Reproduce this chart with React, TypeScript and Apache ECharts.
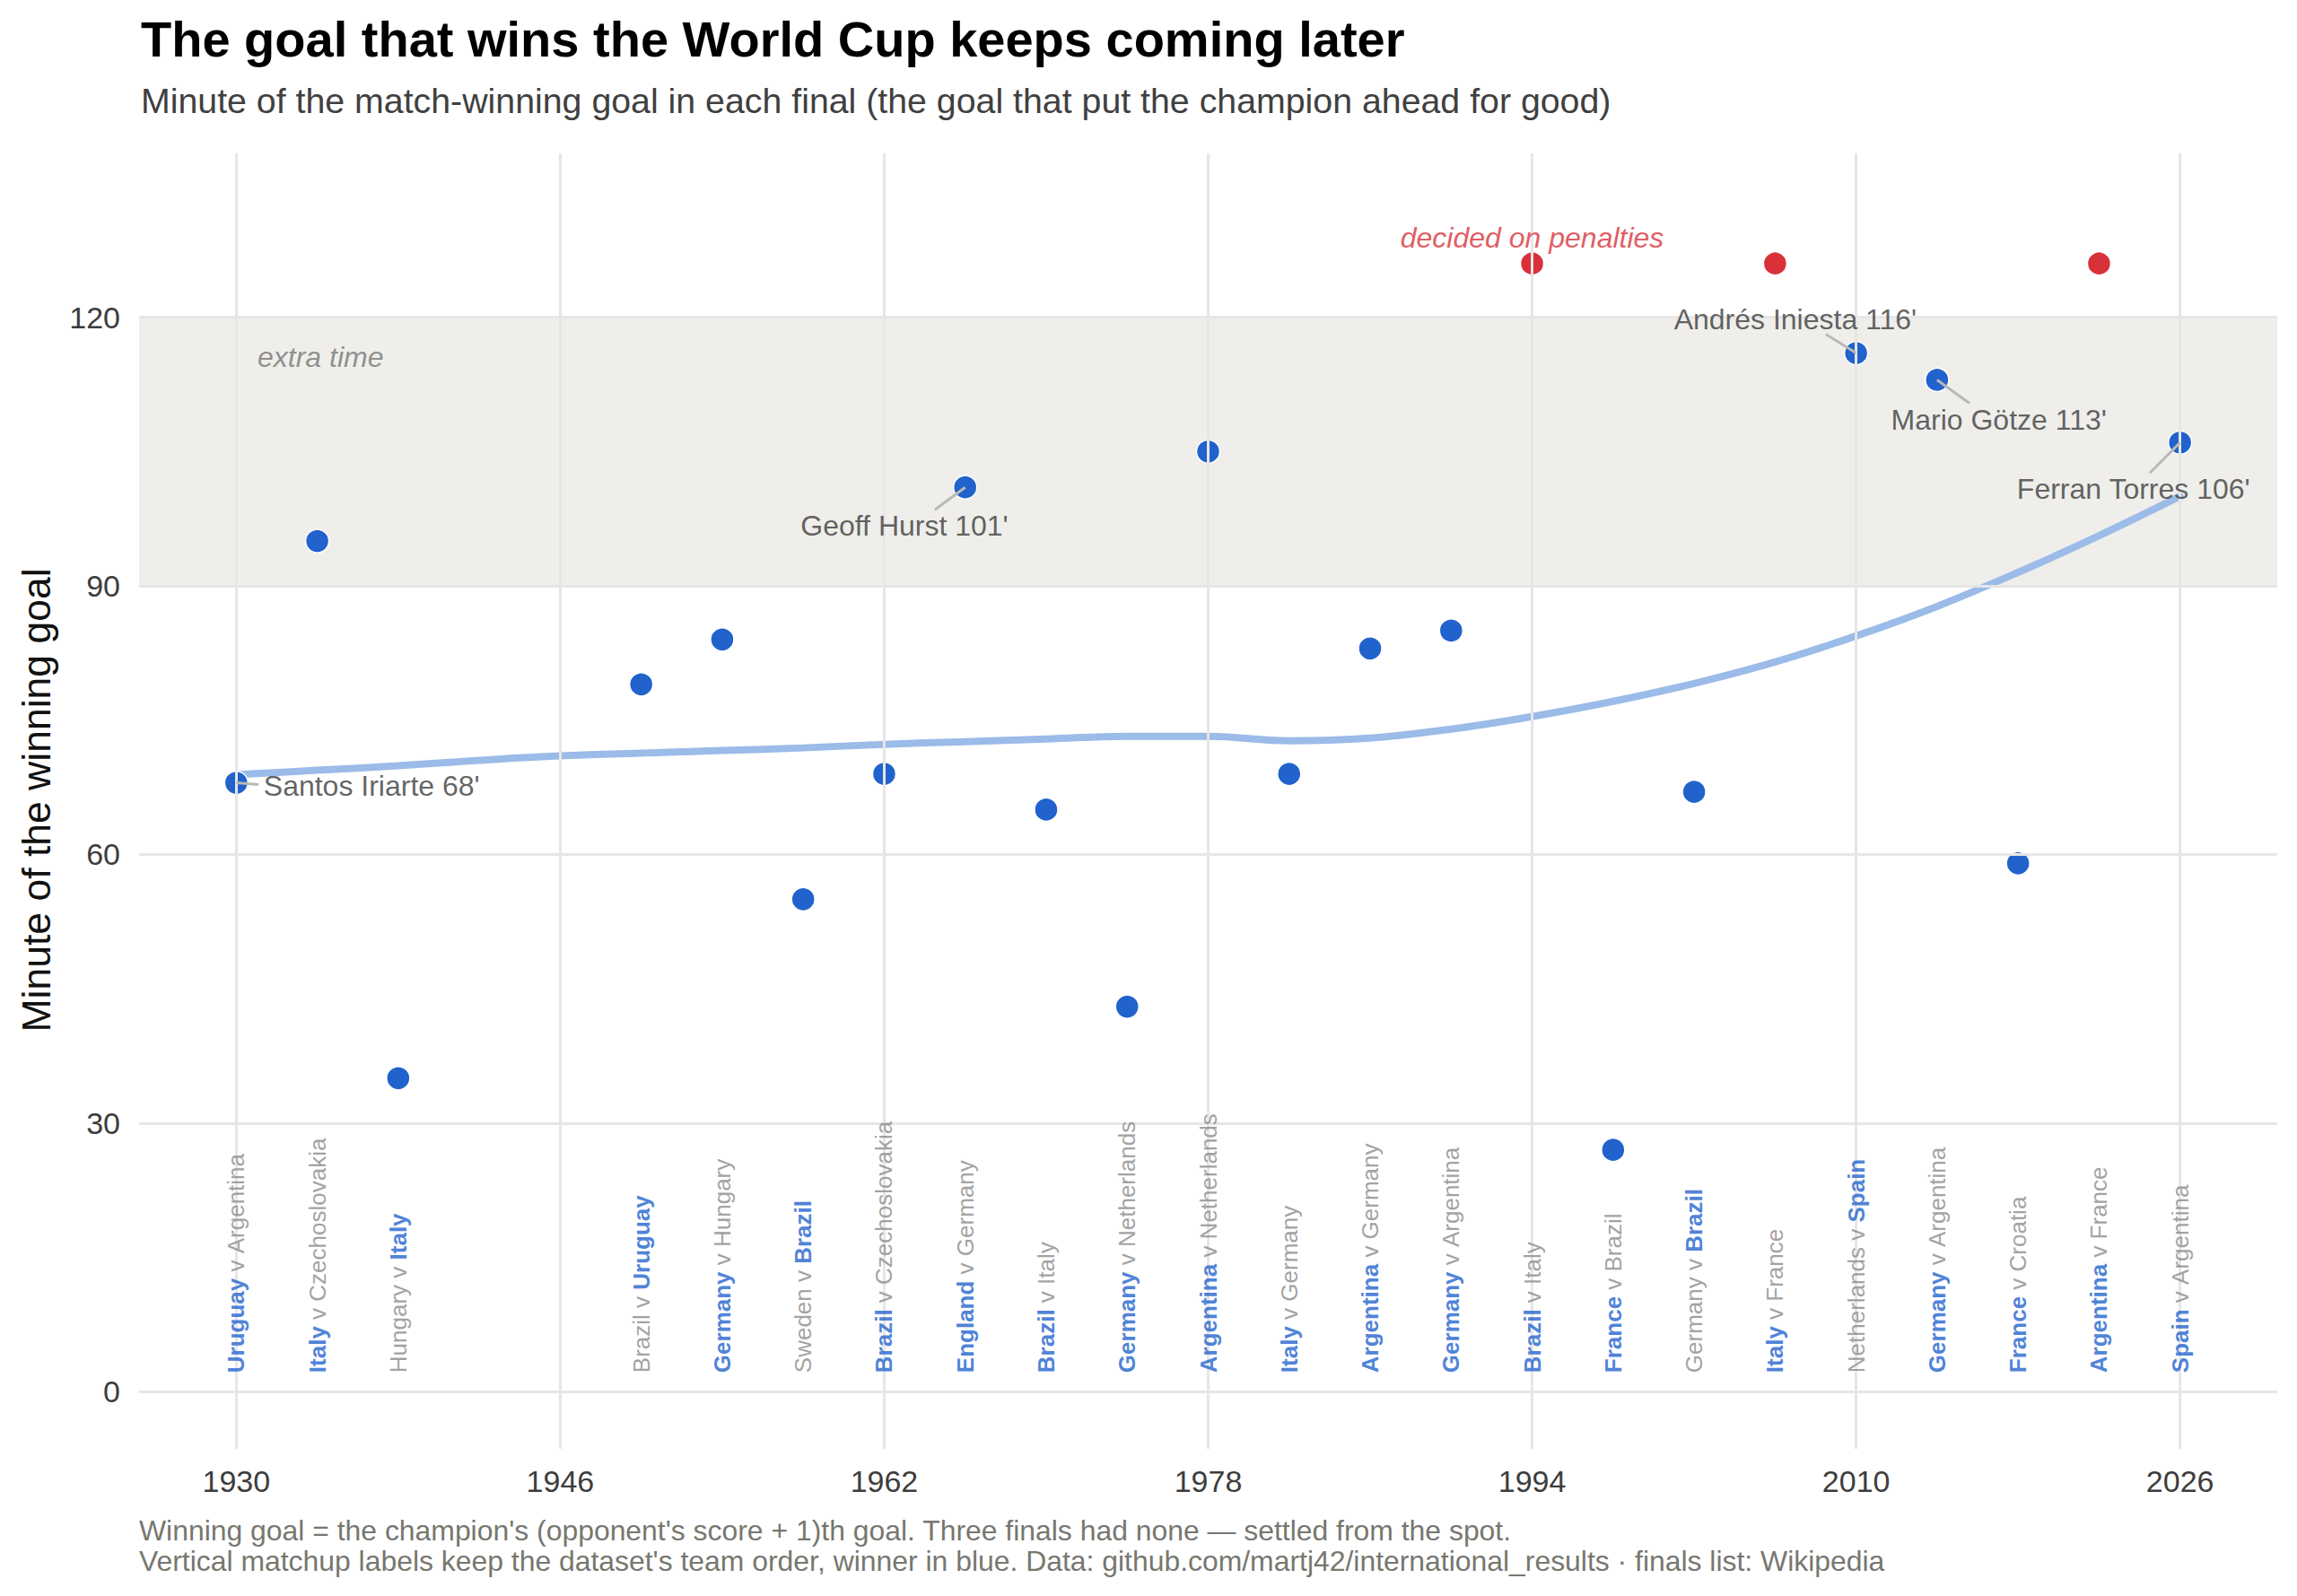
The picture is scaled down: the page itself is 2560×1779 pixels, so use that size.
import React, { useEffect, useRef } from "react";
import * as echarts from "echarts";

const FONT = '"Liberation Sans", Arial, Helvetica, sans-serif';

// ---- Data -------------------------------------------------------------

// World Cup finals, in tournament order
const YEARS = [1930, 1934, 1938, 1950, 1954, 1958, 1962, 1966, 1970, 1974, 1978, 1982, 1986, 1990, 1994, 1998, 2002, 2006, 2010, 2014, 2018, 2022, 2026];
// Team order as stored in the dataset
const TEAM_A = ["Uruguay", "Italy", "Hungary", "Brazil", "Germany", "Sweden", "Brazil", "England", "Brazil", "Germany", "Argentina", "Italy", "Argentina", "Germany", "Brazil", "France", "Germany", "Italy", "Netherlands", "Germany", "France", "Argentina", "Spain"];
const TEAM_B = ["Argentina", "Czechoslovakia", "Italy", "Uruguay", "Hungary", "Brazil", "Czechoslovakia", "Germany", "Italy", "Netherlands", "Netherlands", "Germany", "Germany", "Argentina", "Italy", "Brazil", "Brazil", "France", "Spain", "Argentina", "Croatia", "France", "Argentina"];
const CHAMPION = ["Uruguay", "Italy", "Italy", "Uruguay", "Germany", "Brazil", "Brazil", "England", "Brazil", "Germany", "Argentina", "Italy", "Argentina", "Germany", "Brazil", "France", "Brazil", "Italy", "Spain", "Germany", "France", "Argentina", "Spain"];
// Minute of the match-winning goal; null = settled on penalties
const WINNING_MINUTE = [68, 95, 35, 79, 84, 55, 69, 101, 65, 43, 105, 69, 83, 85, null, 27, 67, null, 116, 113, 59, null, 106];
// Row on which the shoot-out finals are parked
const PENALTY_ROW = 126;

// Smoothed trend of the winning minute
const TREND_YEARS = [1930, 1934, 1938, 1942, 1946, 1950, 1954, 1958, 1962, 1966, 1970, 1974, 1978, 1982, 1986, 1990, 1994, 1998, 2002, 2006, 2010, 2014, 2018, 2022, 2026];
const TREND_MINUTE = [68.9, 69.4, 69.9, 70.5, 71.0, 71.3, 71.6, 71.9, 72.3, 72.6, 72.9, 73.2, 73.2, 72.7, 73.0, 74.0, 75.4, 77.1, 79.1, 81.5, 84.4, 87.7, 91.5, 95.6, 100.0];

// Scorers called out by name
const CALLOUT_YEARS = [1930, 1966, 2010, 2014, 2026];
const CALLOUT_SCORERS = ["Santos Iriarte", "Geoff Hurst", "Andrés Iniesta", "Mario Götze", "Ferran Torres"];

// Axis ticks
const X_TICKS = [1930, 1946, 1962, 1978, 1994, 2010, 2026];
const Y_TICKS = [0, 30, 60, 90, 120];

// Extra-time band
const EXTRA_TIME = [90, 120];

// ---- Layout & style ---------------------------------------------------

const BLUE = "#2162cd";
const RED = "#d93139";
const TREND = "#9bbbe8";
const GRID = "#e6e6e6";
const BAND = "#efeeeb";

const X_RANGE = [1925.2, 2030.8];
const Y_RANGE = [-6.4, 138.3];
const MATCHUP_BASE = 2.1;

// where each callout text sits (data space) and where its leader line ends
const CALLOUT_LAYOUT = [
  { at: [1931.35, 67.7], align: "left", tail: [1931.1, 67.8] },
  { at: [1963.0, 96.7], align: "center", tail: [1964.5, 98.5] },
  { at: [2007.0, 119.8], align: "center", tail: [2008.5, 118.1] },
  { at: [2017.05, 108.5], align: "center", tail: [2015.6, 110.4] },
  { at: [2023.7, 100.8], align: "center", tail: [2024.5, 102.6] },
];

function buildOption() {
  const winners = YEARS.map((y, i) => (WINNING_MINUTE[i] == null ? null : [y, WINNING_MINUTE[i]])).filter(Boolean);
  const shootouts = YEARS.filter((_, i) => WINNING_MINUTE[i] == null).map((y) => [y, PENALTY_ROW]);

  const nb = "\u00a0";
  const matchupText = (i: number) => {
    const a = TEAM_A[i];
    const b = TEAM_B[i];
    const ta = a === CHAMPION[i] ? `{w|${a}}` : `{g|${a}}`;
    const tb = b === CHAMPION[i] ? `{w|${b}}` : `{g|${b}}`;
    return `${ta}{g|${nb}v${nb}}${tb}`;
  };

  const calloutText = (k: number) => {
    const idx = YEARS.indexOf(CALLOUT_YEARS[k]);
    return `${CALLOUT_SCORERS[k]} ${WINNING_MINUTE[idx]}'`;
  };

  const noBorder = { textBorderWidth: 0, textBorderColor: "transparent", textShadowBlur: 0 };

  return {
    animation: false,
    backgroundColor: "#ffffff",
    textStyle: { fontFamily: FONT },
    grid: { left: 155, top: 171, width: 2383, height: 1444, containLabel: false },
    xAxis: {
      type: "value",
      min: X_RANGE[0],
      max: X_RANGE[1],
      axisLine: { show: false },
      axisTick: { show: false, customValues: X_TICKS },
      splitLine: { show: false },
      axisLabel: {
        customValues: X_TICKS,
        fontSize: 34,
        color: "#3d3d3d",
        fontFamily: FONT,
        margin: 19,
        formatter: (v: number) => String(Math.round(v)),
      },
    },
    yAxis: {
      type: "value",
      min: Y_RANGE[0],
      max: Y_RANGE[1],
      axisLine: { show: false },
      axisTick: { show: false, customValues: Y_TICKS },
      splitLine: { show: false },
      axisLabel: {
        customValues: Y_TICKS,
        fontSize: 34,
        color: "#3d3d3d",
        fontFamily: FONT,
        margin: 21,
        formatter: (v: number) => String(Math.round(v)),
      },
    },
    graphic: [
      {
        type: "text",
        x: 157,
        y: 43.7,
        style: {
          text: "The goal that wins the World Cup keeps coming later",
          fill: "#000000",
          fontSize: 56,
          fontWeight: "bold",
          fontFamily: FONT,
          align: "left",
          textAlign: "left",
          verticalAlign: "middle",
          textVerticalAlign: "middle",
        },
      },
      {
        type: "text",
        x: 157,
        y: 111.8,
        style: {
          text: "Minute of the match-winning goal in each final (the goal that put the champion ahead for good)",
          fill: "#404040",
          fontSize: 39.3,
          fontFamily: FONT,
          align: "left",
          textAlign: "left",
          verticalAlign: "middle",
          textVerticalAlign: "middle",
        },
      },
      {
        type: "text",
        x: 40,
        y: 892,
        rotation: Math.PI / 2,
        style: {
          text: "Minute of the winning goal",
          fill: "#111111",
          fontSize: 44.5,
          fontFamily: FONT,
          align: "center",
          textAlign: "center",
          verticalAlign: "middle",
          textVerticalAlign: "middle",
        },
      },
      {
        type: "text",
        x: 155,
        y: 1706,
        style: {
          text: "Winning goal = the champion's (opponent's score + 1)th goal. Three finals had none — settled from the spot.",
          fill: "#77776f",
          fontSize: 31.9,
          fontFamily: FONT,
          align: "left",
          textAlign: "left",
          verticalAlign: "middle",
          textVerticalAlign: "middle",
        },
      },
      {
        type: "text",
        x: 155,
        y: 1740,
        style: {
          text: "Vertical matchup labels keep the dataset's team order, winner in blue. Data: github.com/martj42/international_results · finals list: Wikipedia",
          fill: "#77776f",
          fontSize: 31.9,
          fontFamily: FONT,
          align: "left",
          textAlign: "left",
          verticalAlign: "middle",
          textVerticalAlign: "middle",
        },
      },
    ],
    series: [
      // panel grid lines
      {
        type: "line",
        z: 0,
        data: [],
        silent: true,
        markLine: {
          silent: true,
          symbol: ["none", "none"],
          label: { show: false },
          lineStyle: { color: GRID, width: 3, type: "solid" },
          emphasis: { disabled: true },
          data: [...Y_TICKS.map((v) => ({ yAxis: v })), ...X_TICKS.map((v) => ({ xAxis: v }))],
        },
      },
      // extra-time band
      {
        type: "line",
        z: 1,
        data: [],
        silent: true,
        markArea: {
          silent: true,
          itemStyle: { color: BAND },
          label: { show: false },
          emphasis: { disabled: true },
          data: [[{ yAxis: EXTRA_TIME[0] }, { yAxis: EXTRA_TIME[1] }]],
        },
      },
      // smoothed trend
      {
        type: "line",
        z: 2,
        silent: true,
        smooth: 0.4,
        showSymbol: false,
        symbol: "none",
        lineStyle: { color: TREND, width: 8, cap: "round" },
        data: TREND_YEARS.map((y, i) => [y, TREND_MINUTE[i]]),
      },
      // winning goals
      {
        type: "scatter",
        z: 3,
        silent: true,
        symbol: "circle",
        symbolSize: 26,
        itemStyle: { color: BLUE, borderColor: "#ffffff", borderWidth: 1.5, opacity: 1 },
        data: winners,
      },
      // finals decided on penalties
      {
        type: "scatter",
        z: 3,
        silent: true,
        symbol: "circle",
        symbolSize: 26,
        itemStyle: { color: RED, borderColor: "#ffffff", borderWidth: 1.5, opacity: 1 },
        data: shootouts,
      },
      // callout leader lines
      {
        type: "line",
        z: 4,
        data: [],
        silent: true,
        markLine: {
          silent: true,
          symbol: ["none", "none"],
          label: { show: false },
          lineStyle: { color: "#b9b9b6", width: 3, type: "solid" },
          emphasis: { disabled: true },
          data: CALLOUT_YEARS.map((yr, k) => {
            const idx = YEARS.indexOf(yr);
            return [{ coord: [yr, WINNING_MINUTE[idx]] }, { coord: CALLOUT_LAYOUT[k].tail }];
          }),
        },
      },
      // callout texts
      {
        type: "scatter",
        z: 5,
        silent: true,
        symbolSize: 1,
        itemStyle: { color: "transparent" },
        data: CALLOUT_YEARS.map((_, k) => ({
          value: CALLOUT_LAYOUT[k].at,
          label: { align: CALLOUT_LAYOUT[k].align },
        })),
        label: {
          show: true,
          position: "inside",
          verticalAlign: "middle",
          fontSize: 32,
          fontFamily: FONT,
          color: "#3b3b3b",
          ...noBorder,
          formatter: (p: any) => calloutText(p.dataIndex),
        },
      },
      // panel notes
      {
        type: "scatter",
        z: 5,
        silent: true,
        symbolSize: 1,
        itemStyle: { color: "transparent" },
        data: [
          {
            value: [1931.05, 115.6],
            name: "extra time",
            label: { align: "left", color: "#767676" },
          },
          {
            value: [1994, 128.9],
            name: "decided on penalties",
            label: { align: "center", color: RED },
          },
        ],
        label: {
          show: true,
          position: "inside",
          verticalAlign: "middle",
          fontSize: 32,
          fontStyle: "italic",
          fontFamily: FONT,
          ...noBorder,
          formatter: (p: any) => p.name,
        },
      },
      // vertical matchup labels
      {
        type: "scatter",
        z: 5,
        silent: true,
        symbolSize: 1,
        itemStyle: { color: "transparent" },
        data: YEARS.map((y) => [y, MATCHUP_BASE]),
        label: {
          show: true,
          position: "inside",
          rotate: 90,
          align: "left",
          verticalAlign: "middle",
          ...noBorder,
          formatter: (p: any) => matchupText(p.dataIndex),
          rich: {
            w: { color: BLUE, fontWeight: "bold", fontSize: 26, fontFamily: FONT, ...noBorder },
            g: { color: "#8a8a8a", fontSize: 26, fontFamily: FONT, ...noBorder },
          },
        },
      },
    ],
  };
}

export default function App() {
  const ref = useRef<HTMLDivElement>(null);

  useEffect(() => {
    const el = ref.current;
    if (!el) return;
    const chart = echarts.init(el, null, { renderer: "svg" });
    chart.setOption(buildOption() as any);
    return () => chart.dispose();
  }, []);

  return (
    <div
      ref={ref}
      style={{ position: "absolute", left: 0, top: 0, width: 2560, height: 1779, background: "#ffffff" }}
    />
  );
}
